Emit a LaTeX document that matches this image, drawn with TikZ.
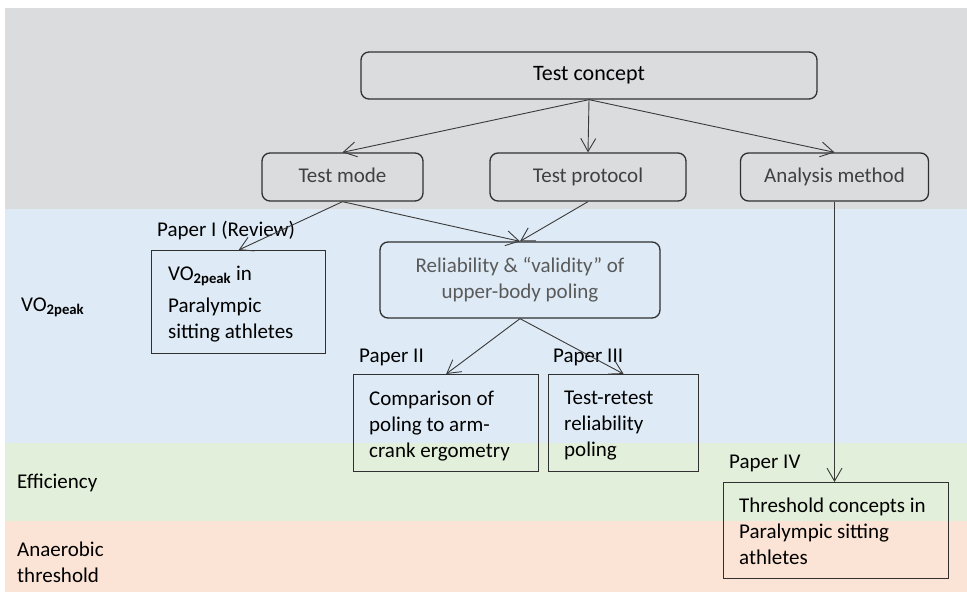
\documentclass[tikz,border=0pt]{standalone}
\usepackage{fontspec}
\setmainfont{Carlito}
\usetikzlibrary{arrows.meta}
\definecolor{bgray}{HTML}{DBDCDE}
\definecolor{bblue}{HTML}{DEEBF6}
\definecolor{bgreen}{HTML}{E2EFDA}
\definecolor{bpeach}{HTML}{FBE4D6}
\definecolor{edgec}{HTML}{303030}
\definecolor{arrc}{HTML}{3A3A3A}
\definecolor{txtgray}{HTML}{404040}
\definecolor{txtlight}{HTML}{5A5A5A}
\newcommand{\vosub}{VO\textsubscript{\bfseries 2peak}}
\begin{document}
\begin{tikzpicture}[x=1pt,y=-1pt,
  font=\fontsize{21}{26}\selectfont,
  rbox/.style={draw=edgec, line width=1.3pt, rounded corners=8pt, inner sep=0pt, text=txtgray},
  onel/.style={text height=14pt, text depth=4pt},
  pbox/.style={draw=edgec, line width=1.3pt, inner sep=0pt, anchor=north west},
  ptext/.style={anchor=north west, inner sep=0pt, align=left, text=black},
  lab/.style={anchor=base west, inner sep=0pt, text=black},
  arr/.style={draw=arrc, line width=0.9pt, -{Straight Barb[length=13pt,width=15pt,line width=0.9pt]}}]

\useasboundingbox (0,0) rectangle (967,597);
% bands
\fill[bgray]  (5,8)   rectangle (967,209);
\fill[bblue]  (5,209) rectangle (967,443);
\fill[bgreen] (5,443) rectangle (967,521);
\fill[bpeach] (5,521) rectangle (967,592);

% band labels
\node[lab] (lvo) at (21,311) {\vosub};
\node[lab] (leff) at (17,488) {Efficiency};
\node[ptext] (lan) at (17,541.5) {Anaerobic\\threshold};

% top tree
\node[rbox, onel, minimum width=456, minimum height=47, text=black, font=\fontsize{22}{26}\selectfont] (tc) at (589,75.5) {Test concept};
\node[rbox, onel, minimum width=161, minimum height=48] (tm) at (342.5,177) {Test mode};
\node[rbox, onel, minimum width=196, minimum height=48] (tp) at (588,177) {Test protocol};
\node[rbox, onel, minimum width=188, minimum height=48] (am) at (834.5,177) {Analysis method};
\node[rbox, minimum width=280, minimum height=76, align=center, text=txtlight] (rel) at (520,280) {Reliability \& “validity” of\\upper-body poling};

% paper boxes
\node[pbox, minimum width=174, minimum height=103] (vo) at (151,250) {};
\node[ptext] (vot) at (168,265.5) {\vosub{} in\\[6pt]Paralympic\\sitting athletes};

\node[pbox, minimum width=185, minimum height=97] (cmp) at (353,374) {};
\node[ptext] (cmpt) at (369,390.5) {Comparison of\\poling to arm-\\crank ergometry};

\node[pbox, minimum width=150, minimum height=97] (trr) at (548,374) {};
\node[ptext] (trrt) at (564,391) {Test-retest\\reliability\\poling};

\node[pbox, minimum width=225, minimum height=96] (thr) at (723,482) {};
\node[ptext] (thrt) at (739,497.5) {Threshold concepts in\\Paralympic sitting\\athletes};

% paper labels
\node[lab] (p1) at (157,236) {Paper I (Review)};
\node[lab] (p2) at (359,362) {Paper II};
\node[lab] (p3) at (553,362) {Paper III};
\node[lab] (p4) at (729,468.5) {Paper IV};

% connectors
\draw[arr] (tc.south) -- (tm.north);
\draw[arr] (tc.south) -- (tp.north);
\draw[arr] (tc.south) -- (am.north);
\draw[arr] (tm.south) -- (vo.north);
\draw[arr] (tm.south) -- (rel.north);
\draw[arr] (tp.south) -- (rel.north);
\draw[arr] (rel.south) -- (cmp.north);
\draw[arr] (rel.south) -- (trr.north);
\draw[arr] (am.south) -- (am.south |- thr.north);
\end{tikzpicture}
\end{document}
